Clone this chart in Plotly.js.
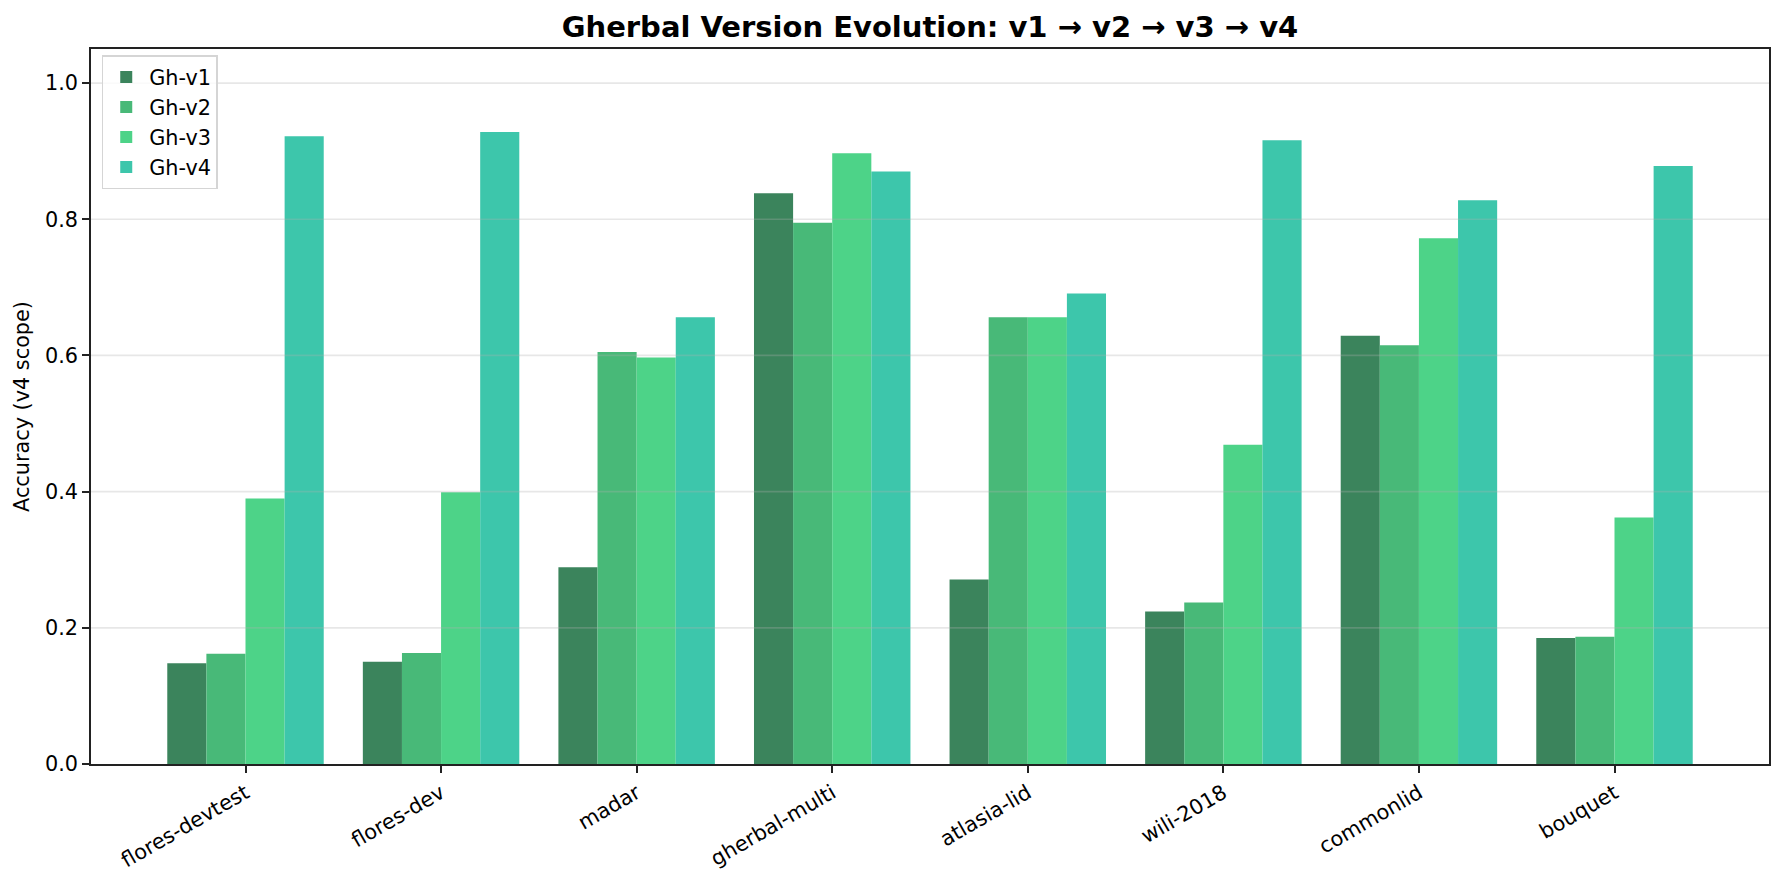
<!DOCTYPE html>
<html>
<head>
<meta charset="utf-8">
<script src="https://cdn.plot.ly/plotly-3.0.1.min.js"></script>
<style>
  html, body { margin: 0; padding: 0; background: #ffffff; }
  #plot { width: 1784px; height: 883px; }
</style>
</head>
<body>
<div id="plot"></div>
<script>
const datasets = ["flores-devtest", "flores-dev", "madar", "gherbal-multi", "atlasia-lid", "wili-2018", "commonlid", "bouquet"];
const versions = ["Gh-v1", "Gh-v2", "Gh-v3", "Gh-v4"];
const v1 = [0.148, 0.150, 0.289, 0.838, 0.271, 0.224, 0.629, 0.185];
const v2 = [0.162, 0.163, 0.605, 0.795, 0.656, 0.237, 0.615, 0.187];
const v3 = [0.390, 0.399, 0.597, 0.897, 0.656, 0.469, 0.772, 0.362];
const v4 = [0.922, 0.928, 0.656, 0.870, 0.691, 0.916, 0.828, 0.878];
const yTicks = [0.0, 0.2, 0.4, 0.6, 0.8, 1.0];

const colors = ["#3b845c", "#48b978", "#4dd388", "#3dc6ab"];
const FONT = "DejaVu Sans, sans-serif";
const AXIS_COLOR = "#222222";

const traces = [v1, v2, v3, v4].map((vals, i) => ({
  type: "bar",
  name: versions[i],
  x: datasets,
  y: vals,
  marker: { color: colors[i], line: { width: 0 } },
}));

// matplotlib draws the grid over the bars here, so grid lines go in as shapes above
const gridShapes = yTicks.filter((t) => t > 0).map((t) => ({
  type: "line",
  layer: "above",
  xref: "paper",
  x0: 0,
  x1: 1,
  yref: "y",
  y0: t,
  y1: t,
  line: { color: "rgba(176,176,176,0.3)", width: 1.7 },
}));

const layout = {
  width: 1784,
  height: 883,
  paper_bgcolor: "#ffffff",
  plot_bgcolor: "#ffffff",
  margin: { l: 91, r: 15, t: 49, b: 119 },
  font: { family: FONT, color: "#000000", size: 20.8 },
  title: {
    text: "<b>Gherbal Version Evolution: v1 → v2 → v3 → v4</b>",
    font: { family: FONT, size: 29, color: "#000000" },
    xref: "paper",
    x: 0.5,
    xanchor: "center",
    yref: "container",
    y: 0.9694,
    yanchor: "middle",
  },
  barmode: "group",
  bargap: 0.2,
  bargroupgap: 0,
  showlegend: true,
  legend: {
    x: 0.0064,
    y: 0.991,
    xanchor: "left",
    yanchor: "top",
    itemwidth: 36,
    entrywidth: 122,
    entrywidthmode: "pixels",
    bgcolor: "rgba(255,255,255,0.8)",
    bordercolor: "#d5d5d5",
    borderwidth: 1.5,
    font: { family: FONT, size: 20.8, color: "#000000" },
  },
  xaxis: {
    type: "category",
    range: [-0.79, 7.79],
    showgrid: false,
    showline: true,
    mirror: true,
    linecolor: AXIS_COLOR,
    linewidth: 1.7,
    ticks: "outside",
    ticklen: 7,
    tickwidth: 1.7,
    tickcolor: AXIS_COLOR,
    tickangle: -30,
    tickfont: { family: FONT, size: 20.8, color: "#000000" },
    zeroline: false,
  },
  yaxis: {
    range: [0, 1.05],
    tickvals: yTicks,
    ticktext: yTicks.map((t) => t.toFixed(1)),
    showgrid: false,
    showline: true,
    mirror: true,
    linecolor: AXIS_COLOR,
    linewidth: 1.7,
    ticks: "outside",
    ticklen: 7,
    tickwidth: 1.7,
    tickcolor: AXIS_COLOR,
    tickfont: { family: FONT, size: 20.8, color: "#000000" },
    zeroline: false,
    title: {
      text: "Accuracy (v4 scope)",
      font: { family: FONT, size: 20.8, color: "#000000" },
      standoff: 10,
    },
  },
  shapes: gridShapes,
};

Plotly.newPlot("plot", traces, layout, { displayModeBar: false, responsive: false });
</script>
</body>
</html>
